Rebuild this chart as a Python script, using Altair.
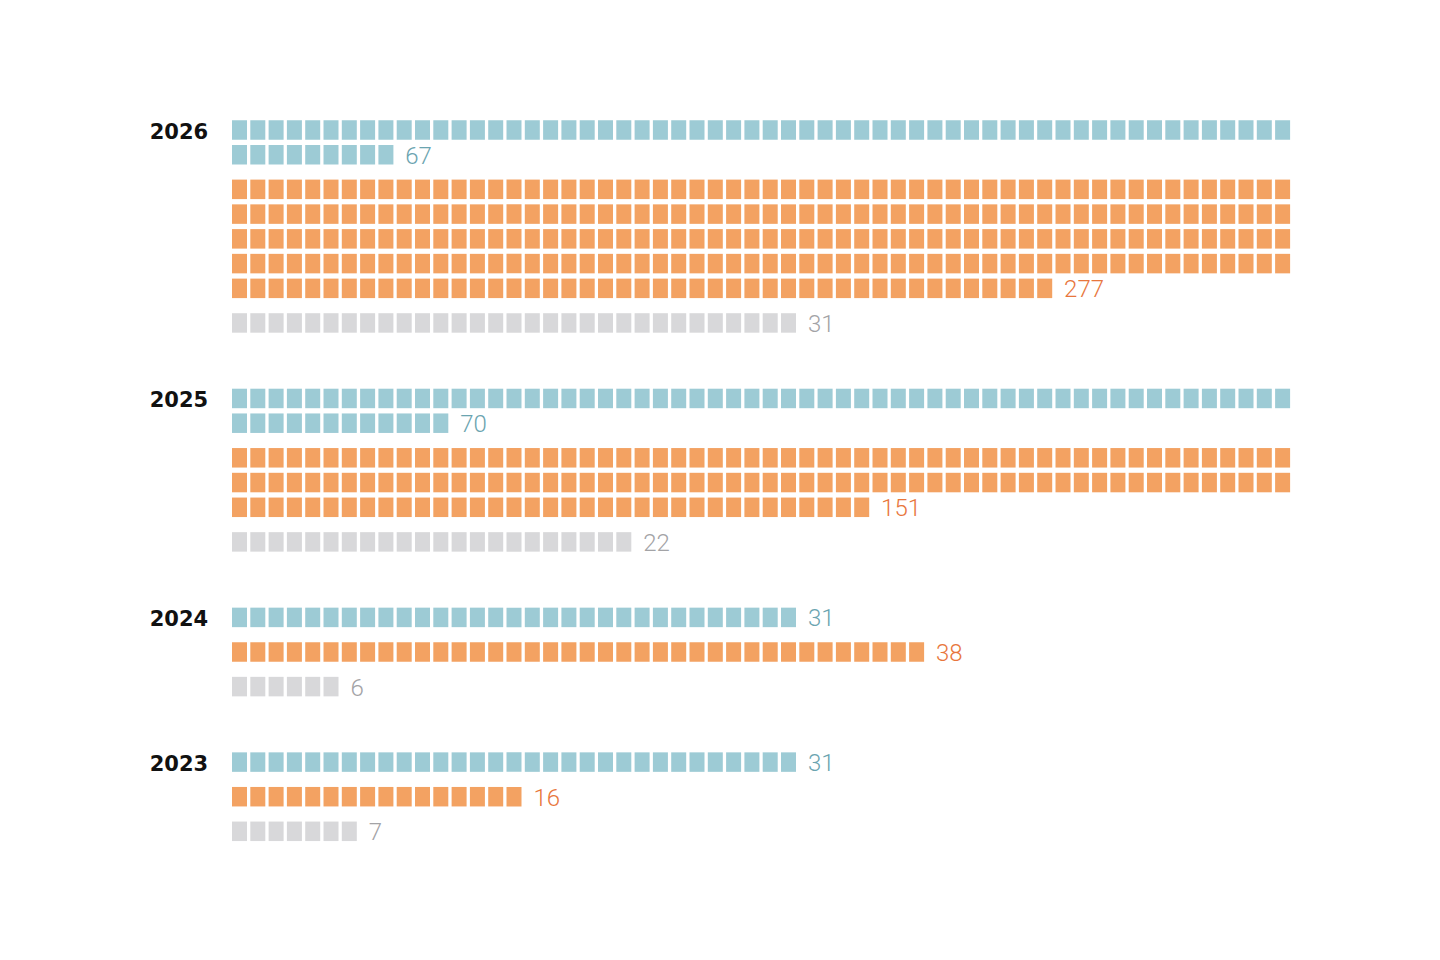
import math
import pandas as pd
import altair as alt

# counts per year, one square per unit
years = ["2026", "2025", "2024", "2023"]
blue_counts = [67, 70, 31, 31]
orange_counts = [277, 151, 38, 16]
gray_counts = [31, 22, 6, 7]

groups = ["blue", "orange", "gray"]
fill_colors = ["#9dcbd5", "#f3a262", "#d8d8da"]
label_colors = ["#6ba4b0", "#e8763c", "#a3a3a6"]

PER_ROW = 58
SQ_W = 0.82        # square width in column units
SQ_H = 19.5        # square height in px
ROW_STEP = 24.75
CAT_STEP = 34.6
YEAR_STEP = 75.5
TOP = 130

counts = {"blue": blue_counts, "orange": orange_counts, "gray": gray_counts}

cells, labels, year_rows = [], [], []
y = TOP
for yi, year in enumerate(years):
    year_rows.append({"year": year, "y": y})
    for gi, g in enumerate(groups):
        n = counts[g][yi]
        nrows = math.ceil(n / PER_ROW)
        for i in range(n):
            r, c = divmod(i, PER_ROW)
            cy = y + r * ROW_STEP
            cells.append({"group": g, "x": c, "x2": c + SQ_W,
                          "y": cy - SQ_H / 2, "y2": cy + SQ_H / 2})
        last_y = y + (nrows - 1) * ROW_STEP
        last_n = n - (nrows - 1) * PER_ROW
        labels.append({"group": g, "x": last_n - 1 + SQ_W + 0.65,
                       "y": last_y, "text": str(n)})
        y = last_y + (CAT_STEP if gi < len(groups) - 1 else YEAR_STEP)

cells = pd.DataFrame(cells)
labels = pd.DataFrame(labels)
year_rows = pd.DataFrame(year_rows)

unit = 18.3
x0 = (232 - 8) / unit
xscale = alt.Scale(domain=[-x0, -x0 + 1424 / unit], nice=False, zero=False)
yscale = alt.Scale(domain=[8, 952], reverse=True, nice=False, zero=False)
color = alt.Color("group:N", scale=alt.Scale(domain=groups, range=fill_colors), legend=None)
tcolor = alt.Color("group:N", scale=alt.Scale(domain=groups, range=label_colors), legend=None)

squares = alt.Chart(cells).mark_rect().encode(
    x=alt.X("x:Q", scale=xscale, axis=None),
    x2="x2:Q",
    y=alt.Y("y:Q", scale=yscale, axis=None),
    y2="y2:Q",
    color=color,
)

counts_text = alt.Chart(labels).mark_text(
    align="left", baseline="middle", font="Roboto", fontWeight=300, fontSize=24, dy=2
).encode(
    x=alt.X("x:Q", scale=xscale, axis=None),
    y=alt.Y("y:Q", scale=yscale, axis=None),
    text="text:N",
    color=tcolor,
)

year_text = alt.Chart(year_rows).mark_text(
    align="right", baseline="middle", font="DejaVu Sans", fontWeight="bold",
    fontSize=21, color="#111111", dy=3
).encode(
    x=alt.datum(-1.3, scale=xscale),
    y=alt.Y("y:Q", scale=yscale, axis=None),
    text="year:N",
)

chart = alt.layer(squares, counts_text, year_text).resolve_scale(color="independent").properties(
    width=1424, height=944, autosize="none", padding=0, background="white"
).configure_view(stroke=None)

chart.save("out.html", embed_options={"renderer": "svg", "actions": False})
